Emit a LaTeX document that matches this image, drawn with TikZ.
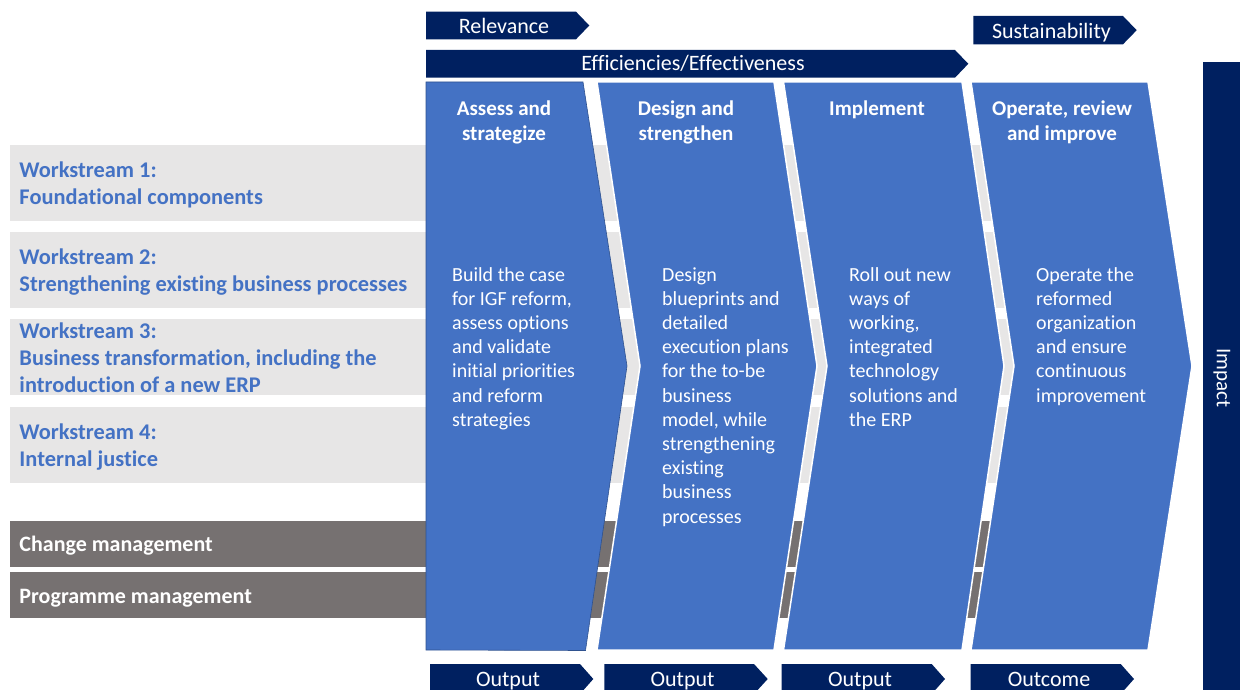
\documentclass[tikz,border=0pt]{standalone}
\usepackage{fontspec}
\setmainfont{Carlito}[Ligatures=NoCommon]
\definecolor{navy}{HTML}{002060}
\definecolor{phaseblue}{HTML}{4472C4}
\definecolor{rowgray}{HTML}{E7E6E6}
\definecolor{mgmtgray}{HTML}{767171}
\definecolor{edgeblue}{HTML}{2F528F}
\begin{document}
\begin{tikzpicture}[x=1pt,y=-1pt,
  banner/.style={fill=navy},
  bannertext/.style={anchor=base,text=white,font=\fontsize{22}{26}\selectfont,inner sep=0pt},
  wsrow/.style={fill=rowgray},
  mgmtrow/.style={fill=mgmtgray},
  wstext/.style={anchor=base west,align=left,inner sep=0pt,text=phaseblue,
    font=\bfseries\fontsize{22.4}{27}\selectfont},
  mgmttext/.style={anchor=base west,inner sep=0pt,text=white,
    font=\bfseries\fontsize{22}{27}\selectfont},
  phase/.style={fill=phaseblue,draw=white,line width=1.5pt},
  phasetitle/.style={anchor=base,align=center,inner sep=0pt,text=white,
    font=\bfseries\fontsize{21}{25}\selectfont},
  phasebody/.style={anchor=base west,align=left,inner sep=0pt,text=white,
    font=\fontsize{20}{24.2}\selectfont}]
\useasboundingbox (0,0) rectangle (1240,690);

% workstream rows (run underneath the phase chevrons)
\fill[wsrow] (10,145) rectangle (1100,220.7);
\fill[wsrow] (10,231.7) rectangle (1100,307.7);
\fill[wsrow] (10,319) rectangle (1100,395);
\fill[wsrow] (10,406.7) rectangle (1100,482.7);
\fill[mgmtrow] (10,520.7) rectangle (1100,566.7);
\fill[mgmtrow] (10,571.7) rectangle (1100,617.7);

% multi-line labels are placed by the baseline of their last line
\node[wstext] (ws1) at (19.3,204.3) {Workstream 1:\\Foundational components};
\node[wstext] (ws2) at (19.3,291) {Workstream 2:\\Strengthening existing business processes};
\node[wstext] (ws3) at (19.3,392.3) {Workstream 3:\\Business transformation, including the\\introduction of a new ERP};
\node[wstext] (ws4) at (19.3,466) {Workstream 4:\\Internal justice};
\node[mgmttext] (chg) at (19.3,551.7) {Change management};
\node[mgmttext] (prg) at (19.3,603) {Programme management};

% phase chevrons
\fill[phaseblue,draw=edgeblue,line width=0.6pt]
  (426,82) -- (583,82) -- (627,366) -- (585.5,650.5) -- (426,650) -- cycle;
\draw[phase] (597,82) -- (774,82) -- (817,366) -- (774,650) -- (597,650) -- (640,366) -- cycle;
\draw[phase] (783.5,82) -- (962,82) -- (1004,366) -- (962,650) -- (783.5,650) -- (827,366) -- cycle;
\draw[phase] (971,82) -- (1148,82) -- (1192,366) -- (1148,650) -- (971,650) -- (1014,366) -- cycle;

\node[phasetitle] (t1) at (504,141) {Assess and\\strategize};
\node[phasetitle] (t2) at (686,141) {Design and\\strengthen};
\node[phasetitle] (t3) at (877,116) {Implement};
\node[phasetitle] (t4) at (1062,141) {Operate, review\\and improve};

\node[phasebody] (b1) at (452,426.2) {Build the case\\for IGF reform,\\assess options\\and validate\\initial priorities\\and reform\\strategies};
\node[phasebody] (b2) at (662,523) {Design\\blueprints and\\detailed\\execution plans\\for the to-be\\business\\model, while\\strengthening\\existing\\business\\processes};
\node[phasebody] (b3) at (849,426.2) {Roll out new\\ways of\\working,\\integrated\\technology\\solutions and\\the ERP};
\node[phasebody] (b4) at (1036,402) {Operate the\\reformed\\organization\\and ensure\\continuous\\improvement};

% top banners
\fill[banner] (426,11.7) -- (576,11.7) -- (589.3,25.5) -- (576,39.3) -- (426,39.3) -- cycle;
\node[bannertext] (rel) at (504,33.3) {Relevance};
\fill[banner] (426,50) -- (955,50) -- (968.3,63.8) -- (955,77.7) -- (426,77.7) -- cycle;
\node[bannertext] (eff) at (693,71) {Efficiencies/Effectiveness};
\fill[banner] (973.3,16) -- (1123,16) -- (1136.7,30.2) -- (1123,44.3) -- (973.3,44.3) -- cycle;
\node[bannertext] (sus) at (1051.5,38.3) {Sustainability};

% bottom banners
\fill[banner] (430,664) -- (580,664) -- (593.3,679) -- (580,694) -- (430,694) -- cycle;
\node[bannertext] (o1) at (508,686.5) {Output};
\fill[banner] (604.3,664) -- (754,664) -- (767.7,679) -- (754,694) -- (604.3,694) -- cycle;
\node[bannertext] (o2) at (682.5,686.5) {Output};
\fill[banner] (781.7,664) -- (931.7,664) -- (945,679) -- (931.7,694) -- (781.7,694) -- cycle;
\node[bannertext] (o3) at (860,686.5) {Output};
\fill[banner] (970.7,664) -- (1120.7,664) -- (1134,679) -- (1120.7,694) -- (970.7,694) -- cycle;
\node[bannertext] (o4) at (1049,686.5) {Outcome};

% impact bar
\fill[banner] (1203,62) rectangle (1240,690);
\node[text=white,inner sep=0pt,rotate=-90,font=\fontsize{21}{24}\selectfont] (imp) at (1222,378) {Impact};
\end{tikzpicture}
\end{document}
